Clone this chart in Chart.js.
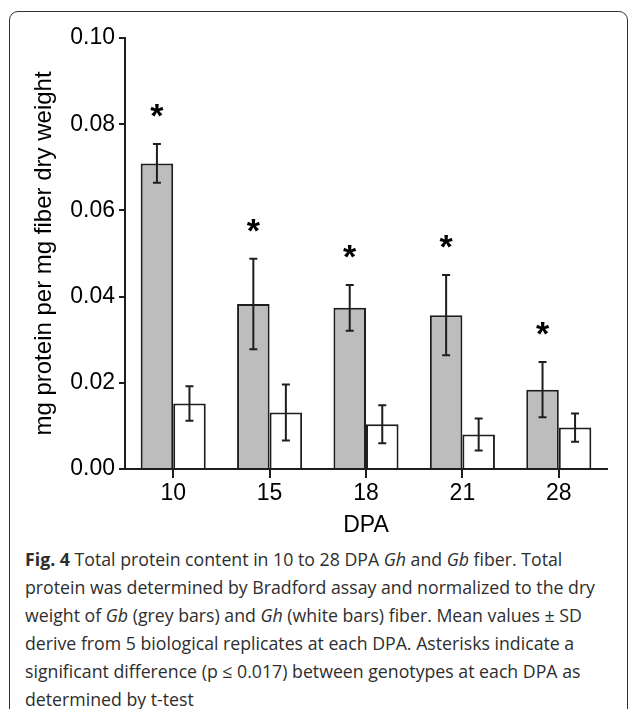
<!DOCTYPE html>
<html lang="en">
<head>
  <meta charset="UTF-8" />
  <title>Fig. 4 - Total protein content</title>
  <style>
    html, body { margin: 0; padding: 0; background: #fff; }
    body { width: 629px; height: 709px; position: relative; overflow: hidden; }
    .frame {
      position: absolute; left: 9px; top: 11px; width: 619px; height: 740px;
      border: 1.5px solid #333; border-radius: 9px; box-sizing: border-box;
    }
    .plot { position: absolute; left: 0; top: 0; width: 629px; height: 545px; }
    .caption {
      position: absolute; left: 25px; top: 545px;
      font-family: "Open Sans", sans-serif; font-size: 18px; line-height: 28px;
      color: #2e2e2e; transform-origin: 0 0;
    }
    .caption div { white-space: nowrap; }
  </style>
</head>
<body>
  <div class="frame"></div>
  <div class="plot"><canvas id="proteinChart" width="629" height="545"></canvas></div>
  <div class="caption" id="caption">
    <div><b>Fig. 4</b> Total protein content in 10 to 28 DPA <i>Gh</i> and <i>Gb</i> fiber. Total</div>
    <div>protein was determined by Bradford assay and normalized to the dry</div>
    <div>weight of <i>Gb</i> (grey bars) and <i>Gh</i> (white bars) fiber. Mean values ± SD</div>
    <div>derive from 5 biological replicates at each DPA. Asterisks indicate a</div>
    <div>significant difference (p ≤ 0.017) between genotypes at each DPA as</div>
    <div>determined by t-test</div>
  </div>

  <script src="https://cdn.jsdelivr.net/npm/chart.js"></script>
  <script>
    // values
    const dpaLabels = ['10', '15', '18', '21', '28'];
    const gbMean = [0.0709, 0.0383, 0.0374, 0.0357, 0.0184];
    const gbSD   = [0.0045, 0.0105, 0.0053, 0.0093, 0.0064];
    const ghMean = [0.0152, 0.0131, 0.0104, 0.0080, 0.0096];
    const ghSD   = [0.0040, 0.0065, 0.0044, 0.0037, 0.0033];
    const significant = [true, true, true, true, true];

    const ink = '#1e1e1e';

    // error bars + asterisks
    const errorBarPlugin = {
      id: 'errorBars',
      afterDatasetsDraw(chart) {
        const ctx = chart.ctx;
        const y = chart.scales.y;
        ctx.save();
        ctx.strokeStyle = ink;
        ctx.lineWidth = 2;
        chart.data.datasets.forEach((ds, di) => {
          chart.getDatasetMeta(di).data.forEach((bar, i) => {
            const top = y.getPixelForValue(ds.data[i] + ds.sd[i]);
            const bot = y.getPixelForValue(ds.data[i] - ds.sd[i]);
            ctx.beginPath();
            ctx.moveTo(bar.x, top); ctx.lineTo(bar.x, bot);
            ctx.moveTo(bar.x - 4, top); ctx.lineTo(bar.x + 4, top);
            ctx.moveTo(bar.x - 4, bot); ctx.lineTo(bar.x + 4, bot);
            ctx.stroke();
          });
        });
        // asterisks above the Gb bars
        const meta = chart.getDatasetMeta(0);
        ctx.fillStyle = '#000';
        ctx.font = 'bold 34px "Liberation Sans", Arial, sans-serif';
        ctx.textAlign = 'center';
        ctx.textBaseline = 'alphabetic';
        significant.forEach((s, i) => {
          if (!s) return;
          const top = y.getPixelForValue(gbMean[i] + gbSD[i]);
          ctx.fillText('*', meta.data[i].x, top - 17);
        });
        ctx.restore();
      }
    };

    const tickFont = { family: '"Liberation Sans", Arial, sans-serif', size: 23 };

    new Chart(document.getElementById('proteinChart').getContext('2d'), {
      type: 'bar',
      data: {
        labels: dpaLabels,
        datasets: [
          { label: 'Gb', data: gbMean, sd: gbSD, backgroundColor: '#bdbdbd', borderColor: ink, borderWidth: 2,
            categoryPercentage: 0.675, barPercentage: 1.0 },
          { label: 'Gh', data: ghMean, sd: ghSD, backgroundColor: '#ffffff', borderColor: ink, borderWidth: 2,
            categoryPercentage: 0.675, barPercentage: 1.0 }
        ]
      },
      options: {
        responsive: false,
        animation: false,
        layout: { padding: { top: 38, right: 22, left: 0, bottom: 0 } },
        plugins: { legend: { display: false }, tooltip: { enabled: false } },
        scales: {
          x: {
            afterFit: s => { s.height = 76; },
            border: { color: ink, width: 2 },
            grid: { offset: false, drawOnChartArea: false, drawTicks: true, tickLength: 9, color: ink, lineWidth: 2 },
            ticks: { color: '#000', font: tickFont, padding: 2 },
            title: { display: true, text: 'DPA', color: '#000', font: tickFont, padding: { top: 0, bottom: 6 } }
          },
          y: {
            min: 0, max: 0.1,
            afterFit: s => { s.width = 125; },
            border: { color: ink, width: 2 },
            grid: { drawOnChartArea: false, drawTicks: true, tickLength: 6, color: ink, lineWidth: 2 },
            ticks: { stepSize: 0.02, color: '#000', font: tickFont, padding: 4, callback: v => v.toFixed(2) },
            title: { display: true, text: 'mg protein per mg fiber dry weight', color: '#000',
                     font: { family: '"Liberation Sans", Arial, sans-serif', size: 24 }, padding: { top: 30, bottom: 0 } }
          }
        }
      },
      plugins: [errorBarPlugin]
    });

    // squeeze the caption a bit so the long lines fit like the original
    const cap = document.getElementById('caption');
    const w = cap.children[1].getBoundingClientRect().width;
    cap.style.transform = 'scaleX(' + (570 / w) + ')';
  </script>
</body>
</html>
